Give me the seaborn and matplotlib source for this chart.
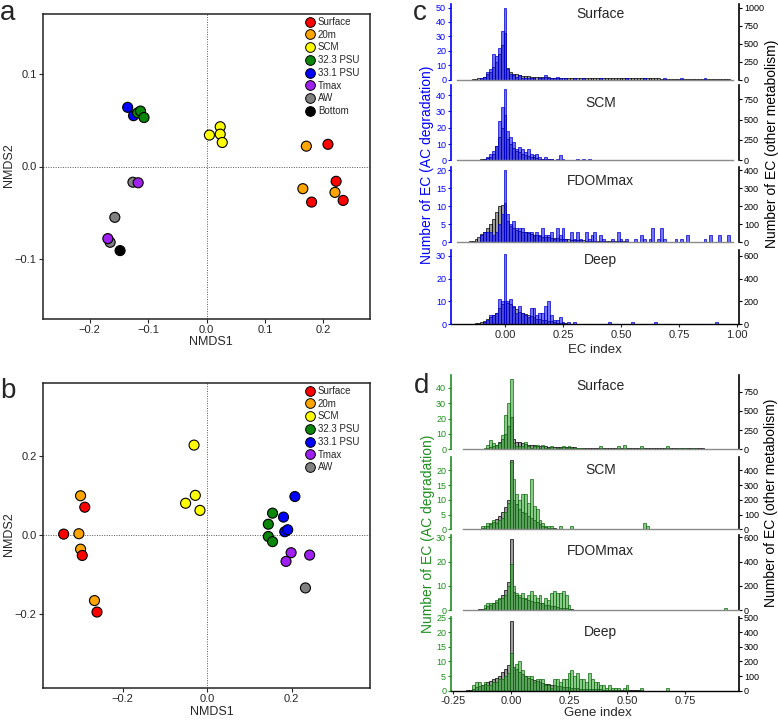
import numpy as np
import pandas as pd
import matplotlib
matplotlib.use("Agg")
import matplotlib.pyplot as plt
import seaborn as sns
from matplotlib.lines import Line2D
from matplotlib.ticker import MultipleLocator, FormatStrFormatter

sns.set_style("ticks")
plt.rcParams['font.family'] = ['Liberation Sans', 'DejaVu Sans']

## NMDS ordinations (panels a and b)
groups = ['Surface', '20m', 'SCM', '32.3 PSU', '33.1 PSU', 'Tmax', 'AW', 'Bottom']
group_colors = ['#FF0000', '#FFA500', '#FFFF00', '#0A860A', '#0000FF', '#A020F0', '#808080', '#000000']

a_group = ['Surface', 'Surface', 'Surface', 'Surface', '20m', '20m', '20m',
           'SCM', 'SCM', 'SCM', 'SCM', '33.1 PSU', '33.1 PSU',
           '32.3 PSU', '32.3 PSU', '32.3 PSU', 'AW', 'AW', 'AW', 'Tmax', 'Tmax', 'Bottom']
a_nmds1 = [0.208, 0.222, 0.180, 0.234, 0.171, 0.165, 0.220,
           0.005, 0.0235, 0.0235, 0.027, -0.135, -0.125,
           -0.118, -0.113, -0.107, -0.126, -0.157, -0.165, -0.117, -0.169, -0.148]
a_nmds2 = [0.024, -0.016, -0.0385, -0.0367, 0.022, -0.024, -0.028,
           0.034, 0.043, 0.035, 0.026, 0.064, 0.055,
           0.058, 0.060, 0.053, -0.017, -0.055, -0.082, -0.0176, -0.078, -0.091]

b_group = ['20m', '20m', '20m', '20m', 'Surface', 'Surface', 'Surface', 'Surface',
           'SCM', 'SCM', 'SCM', 'SCM', '32.3 PSU', '32.3 PSU', '32.3 PSU', '32.3 PSU',
           '33.1 PSU', '33.1 PSU', '33.1 PSU', '33.1 PSU', 'Tmax', 'Tmax', 'Tmax', 'AW']
b_nmds1 = [-0.300, -0.304, -0.300, -0.267, -0.340, -0.290, -0.296, -0.261,
           -0.031, -0.028, -0.051, -0.017, 0.155, 0.145, 0.145, 0.155,
           0.208, 0.181, 0.184, 0.191, 0.199, 0.187, 0.243, 0.233]
b_nmds2 = [0.099, 0.003, -0.036, -0.166, 0.002, 0.070, -0.052, -0.195,
           0.227, 0.100, 0.080, 0.062, 0.055, 0.027, -0.004, -0.017,
           0.097, 0.045, 0.008, 0.013, -0.045, -0.067, -0.051, -0.134]

## EC index histograms (panels c and d), counts per 0.0125 bin starting at -0.2
n_bins = 95
bin_width = 0.0125
bin_centers = np.round(-0.2 + bin_width * np.arange(n_bins), 5)
bin_range = (bin_centers[0] - bin_width / 2, bin_centers[-1] + bin_width / 2)

c_surface_ac = [0,0,0,0,0,0,0,0,1,2, 5,7,18,16,22,34,50,7,4,3, 2,3,1,1,1,1,1,0,1,1,
                3,1,1,1,2,1,0,1,0,0, 1,0,0,1,0,0,0,0,0,1, 0,0,0,0,0,0,0,0,1,0,
                0,0,0,0,1,0,0,0,0,0, 0,1,0,0,0,0,0,1,0,0, 0,0,0,0,0,1]
c_surface_other = [0,0,0,0,0,5,10,15,25,40, 70,110,170,250,350,480,650,160,100,80,
                   70,60,55,50,45,40,38,35,32,30, 30,28,27,26,25,25,24,24,23,23,
                   22,22,21,21,20,20,20,19,19,19, 18,18,18,17,17,17,16,16,16,16,
                   15,15,15,15,15,14,14,14,14,14, 13,13,13,13,13,12,12,12,12,12,
                   12,11,11,11,11,10,10,10,10,9, 8,6,4,2]
c_scm_ac = [0,0,0,0,0,0,0,0,0,1, 2,4,6,9,24,33,44,18,14,11, 7,8,7,5,7,4,3,4,2,1,
            2,1,1,0,1,3,1,0,0,0, 0,1,0,1,0,1]
c_scm_other = [0,0,0,0,0,0,0,5,10,15, 25,40,80,180,280,400,550,260,200,150,
               120,100,80,65,55,45,35,28,22,18, 15,12,10,9,8,7,6,6,5,5,
               5,4,4,4,4,3,3,3,3,3, 3,3,3,3,2,2,2,2,2,2, 2,2,2,2,2,2,2,2,2,2,
               2,2,2,2,2,2,2,2,2,2, 2,2,2,2,2,2,2,2,1,1, 1,1]
c_fdom_ac = [0,0,0,0,0,0,0,0,2,3, 3,3,2,3,5,8,20,8,5,6, 4,4,4,3,3,3,2,3,2,4,
             2,2,3,1,4,2,4,1,0,3, 1,3,1,0,3,1,2,3,0,2, 1,0,0,1,0,3,1,0,1,0,
             0,1,0,2,1,0,1,4,0,1, 4,1,0,0,0,1,0,1,0,2, 0,0,0,0,0,1,0,2,0,0, 2,0,0,2]
c_fdom_other = [0,0,0,2,5,10,20,30,45,60, 80,100,130,170,200,210,220,120,90,80,
                70,65,60,55,50,45,42,38,35,32, 30,28,26,24,22,20,18,17,16,15,
                14,13,12,11,10,10,9,9,8,8, 7,7,6,6,6,5,5,5,5,4, 4,4,4,4,3,3,3,3,3,3,
                3,3,3,2,2,2,2,2,2,2, 2,2,2,2,2,2,2,2,2,2, 2,1,1]
c_deep_ac = [0,0,0,0,0,0,0,0,0,1, 2,4,4,5,11,10,31,10,11,8, 5,8,5,4,3,7,7,4,5,5,
             8,10,4,2,2,3,1,0,1,0, 1,0,0,0,0,0,0,0,0,0, 0,0,1,0,0,0,0,0,0,0,
             1,0,0,0,0,0,0,0,1,0, 0,0,0,0,0,0,0,0,0,0, 0,0,0,0,0,0,0,0,0,1]
c_deep_other = [0,0,0,0,0,5,10,15,22,30, 50,60,80,100,140,180,200,190,180,150,
                130,110,100,90,80,70,60,50,45,40, 35,30,25,20,15,12,10,8,7,6,
                5,5,4,4,4,3,3,3,3,3, 3,3,2,2,2,2,2,2,2,2, 2,2,2,2,2,2,2,2,2,2,
                2,2,2,2,2,2,1,1,1,1, 1,1,1,1,1,1,1,1,1,1, 1,1,1]

d_surface_ac = [0,0,0,0,0,0,0,1,3,6, 4,3,4,9,22,30,46,4,2,2, 2,5,2,1,2,3,1,3,1,1,
                2,0,1,1,2,1,2,1,1,1, 1,0,0,0,0,0,0,2,0,0, 0,0,0,2,0,3,0,0,0,0,
                0,2,0,0,0,0,0,0,0,0, 2,0,0,0,1,0,1,0,0,1]
d_surface_other = [0,0,0,0,0,0,5,10,20,30, 45,60,90,130,200,300,420,140,100,90,
                   80,70,60,55,50,45,42,40,38,36, 34,32,30,29,28,27,26,25,24,23,
                   22,22,21,21,20,20,20,19,19,19, 18,18,18,17,17,17,16,16,16,16,
                   15,15,15,15,15,14,14,14,14,14, 13,13,13,13,13,12,12,12,12,12,
                   11,11,11,10,10,10,9,9,8,7, 6,4,2]
d_scm_ac = [0,0,0,0,0,0,1,1,2,2, 3,2,3,4,6,9,23,17,12,10, 12,12,9,17,8,7,3,2,1,1,
            1,0,0,1,0,0,0,1,0,0, 0,0,0,0,0,0,0,0,0,0, 0,0,0,0,0,0,0,0,0,0, 0,0,2,1]
d_scm_other = [0,0,0,0,2,5,8,12,20,35, 50,70,90,120,150,200,470,200,170,140,
               120,110,90,80,60,50,35,25,15,10, 8,6,5,4,4,3,3,3,2,2,
               2,2,2,2,2,2,2,2,2,2, 2,2,2,2,2,2,1,1,1,1, 1,1,1,1,1,1,1,1,1,1,
               1,1,1,1,1,1,1,1,1,1, 1,1,1,1,1,1,1,1,1,1, 1]
d_fdom_ac = [0,0,0,0,0,0,0,2,3,3, 3,4,5,5,6,10,19,10,7,6, 7,5,6,8,6,5,6,3,5,4,
             7,8,7,7,8,6,2,0,0,0, 0,0,0,0,0,0,0,0,0,0, 0,0,0,0,0,0,0,0,0,0,
             0,0,0,0,0,0,0,0,0,0, 0,0,0,0,0,0,0,0,0,0, 0,0,0,0,0,0,0,0,0,0, 1]
d_fdom_other = [0,0,0,0,3,5,10,20,30,45, 55,70,90,120,165,230,590,150,125,110,
                100,90,85,75,70,65,60,55,45,40, 35,30,25,20,18,15,10,5,2,1, 1,1]
d_deep_ac = [0,0,0,2,3,3,2,3,2,2, 3,3,4,4,5,6,13,8,9,10, 7,5,5,5,3,4,4,4,2,2,
             1,4,4,3,4,4,6,7,5,6, 4,4,3,6,4,3,3,2,2,1, 2,1,1,1,0,1,2,0,0,0,
             0,1,0,0,0,0,0,0,0,0, 1]
d_deep_other = [0,2,8,14,22,32,40,48,58,68, 78,88,100,127,150,175,480,165,145,127,
                115,100,90,82,74,66,59,53,48,44, 41,37,34,31,28,25,23,21,19,17,
                15,14,13,12,11,10,9,9,8,7, 6,5,5,4,4,3,3,2,2,2,
                2,2,1,1,1,1,1,1,1,1, 1,1,1,1,1,1,1]

depths = ['Surface', 'SCM', 'FDOMmax', 'Deep']
ratio = 20  # right axis = 20 x left axis

W, H = 778, 720
fig = plt.figure(figsize=(W / 100, H / 100), dpi=100)


def px_axes(left, top, right, bottom):
    return fig.add_axes([left / W, 1 - bottom / H, (right - left) / W, (bottom - top) / H])


def pad(counts):
    return np.array(list(counts) + [0] * (n_bins - len(counts)), dtype=float)


## Panels a and b
palette = dict(zip(groups, group_colors))


def nmds_panel(ax, grp, x, y, legend_groups, lims, ticks_x, ticks_y):
    df = pd.DataFrame({'group': grp, 'NMDS1': x, 'NMDS2': y})
    ax.axvline(0, color='#555555', ls=(0, (1, 1.5)), lw=0.7, zorder=1)
    ax.axhline(0, color='#555555', ls=(0, (1, 1.5)), lw=0.7, zorder=1)
    sns.scatterplot(data=df, x='NMDS1', y='NMDS2', hue='group', palette=palette,
                    s=52, edgecolor='black', linewidth=0.8, ax=ax, legend=False, zorder=3)
    ax.set_xlim(lims[0])
    ax.set_ylim(lims[1])
    ax.set_xticks(ticks_x)
    ax.set_yticks(ticks_y)
    ax.set_xlabel('')
    ax.set_ylabel('')
    ax.tick_params(labelsize=8, length=3, width=0.8, pad=1.5)
    for s in ax.spines.values():
        s.set_linewidth(1.1)
        s.set_color('#222222')
    handles = [Line2D([], [], marker='o', ls='', markerfacecolor=palette[g],
                      markeredgecolor='black', markeredgewidth=0.7, markersize=7)
               for g in legend_groups]
    ax.legend(handles, legend_groups, loc='upper left', bbox_to_anchor=(0.802, 0.99),
              frameon=False, fontsize=7, handlelength=1.0, handletextpad=0.3,
              labelspacing=0.28, borderpad=0, borderaxespad=0)


ax_a = px_axes(43, 14, 370, 319)
nmds_panel(ax_a, a_group, a_nmds1, a_nmds2, groups,
           ((-0.28, 0.28), (-0.165, 0.165)), [-0.2, -0.1, 0.0, 0.1, 0.2], [-0.1, 0.0, 0.1])
ax_b = px_axes(43, 383, 370, 688)
nmds_panel(ax_b, b_group, b_nmds1, b_nmds2, groups[:-1],
           ((-0.389, 0.386), (-0.387, 0.384)), [-0.2, 0.0, 0.2], [-0.2, 0.0, 0.2])

fig.text(211 / W, 1 - 342 / H, 'NMDS1', ha='center', va='center', fontsize=9)
fig.text(9 / W, 1 - 165 / H, 'NMDS2', ha='center', va='center', fontsize=9, rotation=90)
fig.text(212 / W, 1 - 712 / H, 'NMDS1', ha='center', va='center', fontsize=9)
fig.text(9 / W, 1 - 534 / H, 'NMDS2', ha='center', va='center', fontsize=9, rotation=90)

## Panels c and d
c_ac = [c_surface_ac, c_scm_ac, c_fdom_ac, c_deep_ac]
c_other = [c_surface_other, c_scm_other, c_fdom_other, c_deep_other]
d_ac = [d_surface_ac, d_scm_ac, d_fdom_ac, d_deep_ac]
d_other = [d_surface_other, d_scm_other, d_fdom_other, d_deep_other]

c_rows = [(4, 79.5), (85, 160.3), (166.7, 242.3), (250, 324.3)]
d_rows = [(375, 449.3), (456.7, 529.3), (535, 610), (617, 690.7)]


def hist_block(rows, ac_list, other_list, fill, edge, text_col, xlim, xticks,
               left_steps, right_steps, title_y):
    for i, (top, bottom) in enumerate(rows):
        hist_df = pd.DataFrame({'index': bin_centers,
                                'ac': pad(ac_list[i]),
                                'other': pad(other_list[i])})
        ax = px_axes(451, top, 739, bottom)
        ax2 = ax.twinx()
        sns.histplot(data=hist_df, x='index', weights='other', binwidth=bin_width,
                     binrange=bin_range, color='#5a5a5a', alpha=0.6,
                     edgecolor='black', linewidth=0.5, ax=ax2)
        sns.histplot(data=hist_df, x='index', weights='ac', binwidth=bin_width,
                     binrange=bin_range, color=fill, alpha=0.55,
                     edgecolor=edge, linewidth=0.5, ax=ax)
        for a in (ax, ax2):
            for p in a.patches:
                if p.get_height() == 0:
                    p.set_visible(False)
        ymax = 1.05 * max(hist_df['ac'].max(), hist_df['other'].max() / ratio)
        ax.set_ylim(0, ymax)
        ax2.set_ylim(0, ymax * ratio)
        ax.set_xlim(xlim)
        ax.set_zorder(ax2.get_zorder() + 1)
        ax.patch.set_visible(False)
        ax.set_ylabel('')
        ax2.set_ylabel('')
        ax.set_xlabel('')
        ax.yaxis.set_major_locator(MultipleLocator(left_steps[i]))
        ax2.yaxis.set_major_locator(MultipleLocator(right_steps[i]))
        ax.tick_params(axis='y', colors=text_col, labelsize=6.5, length=2.5, width=0.8, pad=1)
        ax2.tick_params(axis='y', colors='black', labelsize=6.5, length=2.5, width=0.8, pad=1)
        for s in ['top', 'right']:
            ax.spines[s].set_visible(False)
        for s in ['top', 'left', 'bottom']:
            ax2.spines[s].set_visible(False)
        ax.spines['left'].set_color(text_col)
        ax.spines['left'].set_linewidth(1.2)
        ax2.spines['right'].set_color('black')
        ax2.spines['right'].set_linewidth(1.2)
        if i == len(rows) - 1:
            ax.set_xticks(xticks)
            ax.xaxis.set_major_formatter(FormatStrFormatter('%.2f'))
            ax.tick_params(axis='x', labelsize=8, length=2.5, width=0.8, pad=1.5)
            ax.spines['bottom'].set_color('black')
            ax.spines['bottom'].set_linewidth(1.0)
        else:
            ax.set_xticks([])
            ax.spines['bottom'].set_color('#8a8a8a')
            ax.spines['bottom'].set_linewidth(1.0)
            ax.spines['bottom'].set_bounds(*bin_range)
        ax.text(0.52, title_y[i], depths[i], transform=ax.transAxes, ha='center',
                va='center', fontsize=10)


blue = '#0000FF'
green = '#1E8F1E'
hist_block(c_rows, c_ac, c_other, blue, '#0000C8', blue, (-0.233, 1.009),
           [0.0, 0.25, 0.5, 0.75, 1.0], [10, 10, 5, 10], [250, 250, 100, 200],
           [0.87, 0.76, 0.81, 0.87])
hist_block(d_rows, d_ac, d_other, '#2CA02C', '#0E6A0E', green, (-0.259, 0.983),
           [-0.25, 0.0, 0.25, 0.5, 0.75], [10, 5, 10, 5], [250, 100, 200, 100],
           [0.85, 0.82, 0.79, 0.79])

fig.text(427 / W, 1 - 165 / H, 'Number of EC (AC degradation)', color=blue,
         rotation=90, ha='center', va='center', fontsize=10)
fig.text(772 / W, 1 - 144 / H, 'Number of EC (other metabolism)', color='black',
         rotation=90, ha='center', va='center', fontsize=10)
fig.text(428 / W, 1 - 534 / H, 'Number of EC (AC degradation)', color=green,
         rotation=90, ha='center', va='center', fontsize=10)
fig.text(771 / W, 1 - 503 / H, 'Number of EC (other metabolism)', color='black',
         rotation=90, ha='center', va='center', fontsize=10)
fig.text(595 / W, 1 - 350 / H, 'EC index', ha='center', va='center', fontsize=9.5)
fig.text(598 / W, 1 - 713 / H, 'Gene index', ha='center', va='center', fontsize=9.5)

## Panel letters
fig.text(0 / W, 1 - 20 / H, 'a', fontsize=20, va='baseline')
fig.text(0 / W, 1 - 398 / H, 'b', fontsize=20, va='baseline')
fig.text(413 / W, 1 - 20 / H, 'c', fontsize=20, va='baseline')
fig.text(414 / W, 1 - 393 / H, 'd', fontsize=20, va='baseline')

fig.savefig('out.png', dpi=100)
